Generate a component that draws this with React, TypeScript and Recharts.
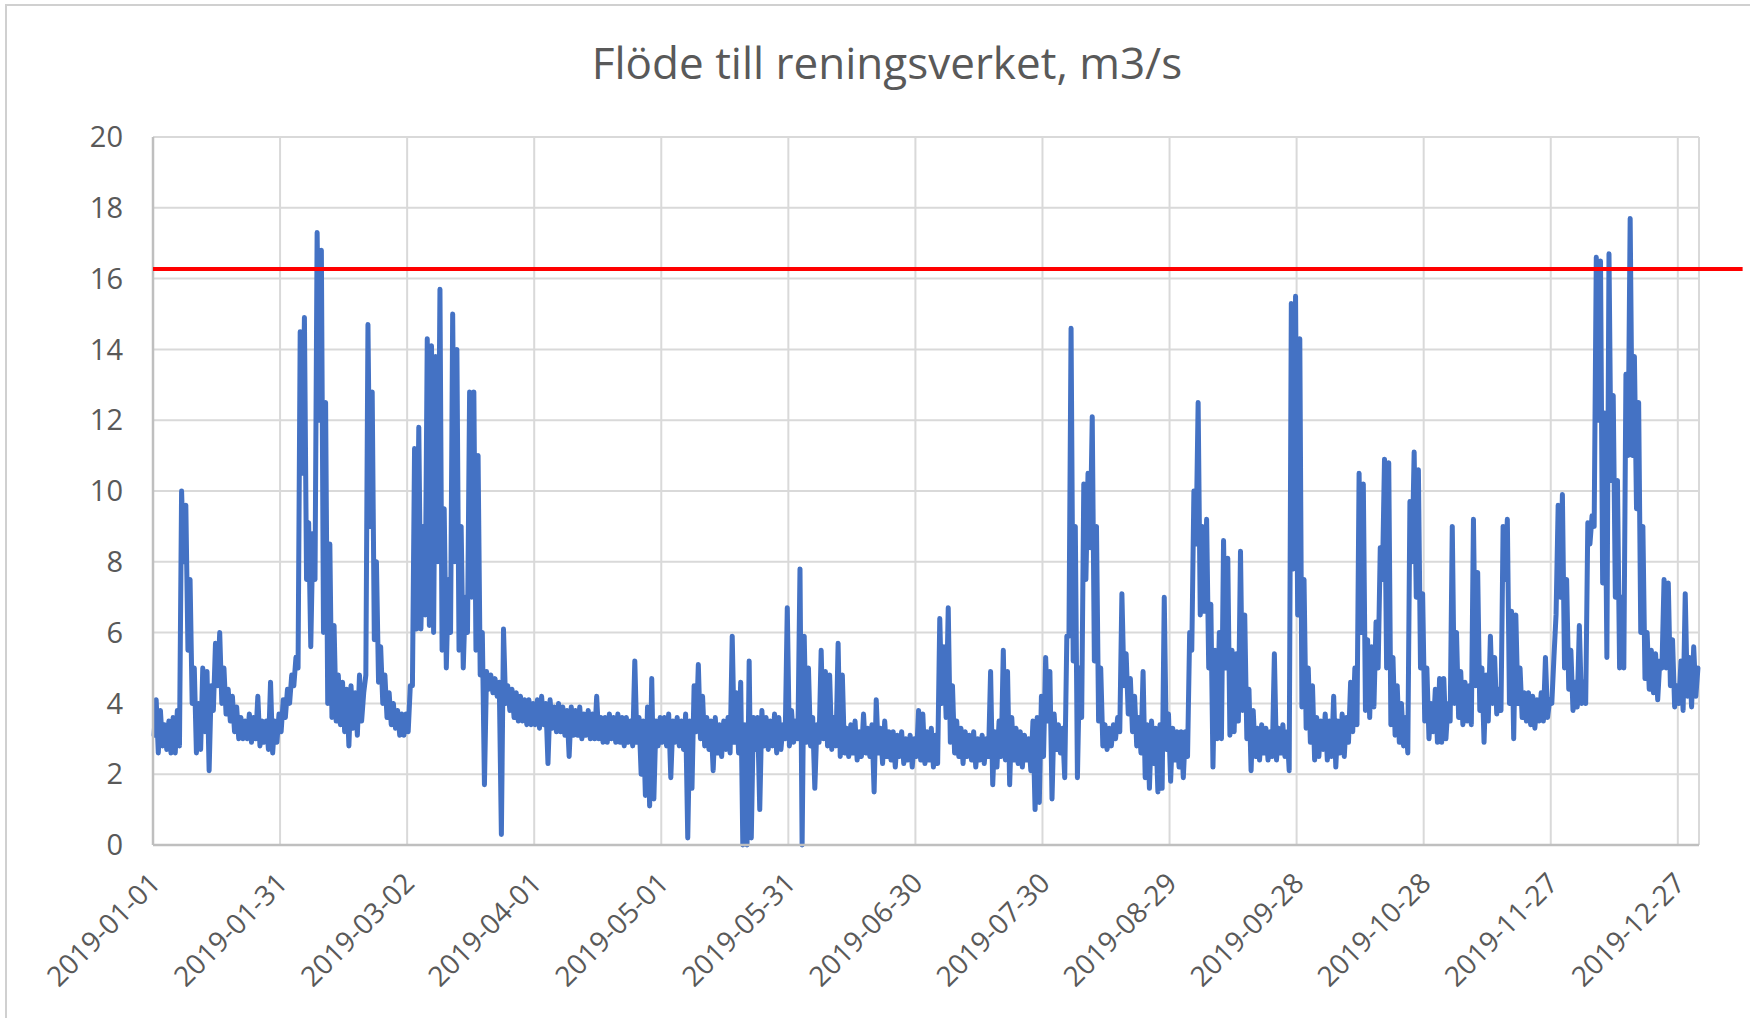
import React from "react";
import {
  LineChart,
  Line,
  XAxis,
  YAxis,
  CartesianGrid,
  ReferenceLine,
} from "recharts";

const FONT = '"Open Sans", "Noto Sans", sans-serif';
const TEXT_COLOR = "#595959";
const FLOW_COLOR = "#4472C4";
const GRID_COLOR = "#d9d9d9";

// dygnets lägsta och högsta flöde (m3/s), en array per månad
const JAN_LOW = [3.1, 2.6, 2.8, 2.7, 2.6, 2.6, 2.8, 8.0, 5.5, 4.0, 2.6, 2.7, 3.2, 2.1, 3.8, 4.5, 4.0, 3.7, 3.5, 3.2, 3.0, 3.0, 3.0, 2.9, 3.0, 2.8, 2.9, 2.7, 2.6, 2.9, 3.2];
const JAN_HIGH = [4.1, 3.8, 3.4, 3.5, 3.6, 3.8, 10.0, 9.6, 7.5, 5.0, 4.0, 5.0, 4.9, 4.5, 5.7, 6.0, 5.0, 4.4, 4.2, 3.9, 3.6, 3.5, 3.7, 3.6, 4.2, 3.5, 3.5, 4.6, 3.5, 3.7, 4.1];
const FEB_LOW = [3.6, 4.0, 4.5, 5.0, 10.5, 7.5, 5.6, 7.5, 12.0, 6.0, 4.0, 3.6, 3.5, 3.4, 3.2, 2.8, 3.3, 3.1, 3.5, 4.8, 9.0, 5.8, 4.6, 4.0, 3.6, 3.4, 3.3, 3.1];
const FEB_HIGH = [4.4, 4.8, 5.3, 14.5, 14.9, 9.1, 8.8, 17.3, 16.8, 12.5, 8.5, 6.2, 4.8, 4.6, 4.4, 4.5, 4.3, 4.8, 4.3, 14.7, 12.8, 8.0, 5.6, 4.8, 4.3, 4.0, 3.8, 3.7];
const MAR_LOW = [3.1, 3.2, 4.5, 6.1, 6.1, 6.5, 6.2, 6.0, 8.0, 5.5, 5.0, 6.0, 8.0, 5.5, 5.0, 6.0, 7.0, 5.5, 4.8, 1.7, 4.4, 4.3, 4.2, 0.3, 4.0, 3.8, 3.6, 3.5, 3.5, 3.4, 3.4];
const MAR_HIGH = [3.7, 4.5, 11.2, 11.8, 9.0, 14.3, 14.1, 13.8, 15.7, 9.5, 7.5, 15.0, 14.0, 9.0, 7.0, 12.8, 12.8, 11.0, 6.0, 4.9, 4.8, 4.7, 4.6, 6.1, 4.5, 4.4, 4.3, 4.2, 4.1, 4.1, 4.0];
const APR_LOW = [3.4, 3.3, 3.4, 2.3, 3.3, 3.2, 3.2, 3.1, 2.5, 3.1, 3.1, 3.0, 3.1, 3.0, 3.0, 3.0, 2.9, 2.9, 3.0, 2.9, 2.9, 2.8, 2.9, 2.8, 2.9, 2.0, 1.4, 1.1, 1.3, 2.8];
const APR_HIGH = [4.1, 4.2, 4.0, 4.1, 3.9, 4.0, 3.9, 3.8, 3.9, 3.8, 3.9, 3.7, 3.8, 3.7, 4.2, 3.6, 3.6, 3.7, 3.6, 3.7, 3.6, 3.6, 3.5, 5.2, 3.6, 3.5, 3.9, 4.7, 3.5, 3.6];
const MAY_LOW = [2.9, 2.8, 1.9, 2.9, 2.8, 2.7, 0.2, 1.6, 3.2, 3.0, 2.8, 2.7, 2.1, 2.6, 2.5, 2.7, 2.6, 2.9, 2.6, 0.0, 0.0, 0.2, 2.7, 1.0, 2.8, 2.7, 2.8, 2.6, 2.7, 3.0, 2.8];
const MAY_HIGH = [3.6, 3.7, 3.5, 3.6, 3.5, 3.7, 3.5, 4.5, 5.1, 4.2, 3.6, 3.5, 3.6, 3.4, 3.5, 3.6, 5.9, 4.3, 4.6, 3.4, 5.2, 3.6, 3.6, 3.8, 3.6, 3.5, 3.7, 3.6, 3.4, 6.7, 3.8];
const JUN_LOW = [2.9, 3.0, 0.0, 2.9, 2.8, 1.6, 2.9, 3.0, 2.8, 2.7, 2.8, 2.5, 2.6, 2.5, 2.6, 2.4, 2.5, 2.6, 2.5, 1.5, 2.6, 2.3, 2.5, 2.4, 2.2, 2.5, 2.3, 2.4, 2.2, 2.5];
const JUN_HIGH = [3.5, 7.8, 5.9, 5.0, 3.6, 3.4, 5.5, 4.9, 4.8, 3.6, 5.7, 4.8, 3.3, 3.4, 3.5, 3.2, 3.7, 3.3, 3.4, 4.1, 3.3, 3.5, 3.2, 3.2, 3.1, 3.2, 3.0, 3.1, 3.0, 3.8];
const JUL_LOW = [2.4, 2.3, 2.4, 2.2, 2.3, 4.0, 3.6, 2.9, 2.6, 2.5, 2.3, 2.5, 2.4, 2.2, 2.4, 2.3, 2.5, 1.7, 2.2, 2.5, 2.4, 1.7, 2.4, 2.3, 2.2, 2.4, 2.1, 1.0, 1.2, 2.5, 3.5];
const JUL_HIGH = [3.7, 3.2, 3.3, 3.1, 6.4, 5.6, 6.7, 4.5, 3.5, 3.3, 3.2, 3.1, 3.2, 3.0, 3.1, 3.0, 4.9, 3.2, 3.5, 5.5, 4.9, 3.6, 3.3, 3.2, 3.1, 3.0, 3.5, 3.6, 4.2, 5.3, 4.9];
const AUG_LOW = [1.3, 2.7, 2.6, 1.9, 5.9, 5.2, 1.9, 3.6, 7.5, 8.4, 5.2, 3.5, 2.8, 2.7, 2.8, 3.0, 3.2, 4.5, 3.7, 3.2, 2.8, 2.6, 1.9, 1.6, 2.3, 1.5, 1.6, 2.7, 1.8, 2.4, 2.2];
const AUG_HIGH = [3.7, 3.4, 3.3, 5.9, 14.6, 9.0, 5.0, 10.2, 10.5, 12.1, 9.0, 5.0, 3.4, 3.3, 3.4, 3.6, 7.1, 5.4, 4.7, 4.2, 3.6, 4.9, 3.4, 3.5, 3.3, 3.4, 7.0, 3.7, 3.3, 3.2, 3.2];
const SEP_LOW = [1.9, 2.5, 5.5, 8.5, 6.5, 6.6, 5.0, 2.2, 3.0, 3.0, 5.0, 3.1, 3.2, 3.5, 3.8, 3.0, 2.1, 2.5, 2.4, 2.6, 2.4, 2.5, 2.4, 2.6, 2.5, 2.1, 7.8, 6.5, 3.9, 3.3];
const SEP_HIGH = [3.2, 6.0, 10.0, 12.5, 9.0, 9.2, 6.8, 5.5, 6.0, 8.6, 8.1, 5.5, 5.4, 8.3, 6.5, 4.4, 3.8, 3.3, 3.4, 3.3, 3.2, 5.4, 3.3, 3.4, 3.2, 15.3, 15.5, 14.3, 7.5, 5.0];
const OCT_LOW = [2.9, 2.4, 2.5, 2.7, 2.4, 2.5, 2.2, 2.6, 2.5, 2.9, 3.2, 3.4, 6.0, 3.8, 3.6, 3.9, 5.0, 7.5, 5.0, 3.4, 3.1, 2.9, 2.8, 2.6, 8.0, 7.0, 5.0, 3.5, 3.0, 3.2, 2.9];
const OCT_HIGH = [4.5, 3.6, 3.5, 3.7, 3.5, 4.2, 3.5, 3.7, 3.6, 4.6, 5.0, 10.5, 10.2, 5.8, 5.6, 6.3, 8.4, 10.9, 10.8, 5.3, 4.5, 4.0, 3.6, 9.7, 11.1, 10.6, 7.1, 5.0, 4.0, 4.4, 4.7];
const NOV_LOW = [2.9, 3.0, 3.5, 4.0, 3.6, 3.4, 3.5, 3.4, 4.5, 3.8, 2.9, 3.5, 4.0, 3.7, 3.8, 7.5, 4.0, 3.0, 4.0, 3.6, 3.5, 3.4, 3.3, 3.5, 3.5, 3.6, 4.0, 6.5, 7.0, 5.0];
const NOV_HIGH = [4.7, 4.0, 9.0, 6.0, 4.9, 4.6, 4.5, 9.2, 7.7, 5.0, 4.8, 5.9, 5.3, 4.4, 9.0, 9.2, 6.6, 6.5, 5.0, 4.3, 4.3, 4.2, 4.1, 4.3, 5.3, 4.1, 5.3, 9.6, 9.9, 7.5];
const DEC_LOW = [4.4, 3.8, 3.9, 4.0, 4.0, 8.5, 9.0, 12.0, 7.4, 5.3, 10.3, 7.0, 5.0, 5.0, 11.0, 11.0, 9.5, 6.0, 4.7, 4.4, 4.3, 4.1, 5.0, 5.0, 4.5, 3.9, 4.0, 3.8, 4.2, 3.9, 4.2];
const DEC_HIGH = [5.5, 4.6, 6.2, 4.6, 9.1, 9.3, 16.6, 16.5, 12.2, 16.7, 12.7, 10.3, 7.0, 13.3, 17.7, 13.8, 12.5, 9.0, 6.0, 5.5, 5.4, 5.2, 7.5, 7.4, 5.8, 4.5, 5.2, 7.1, 5.3, 5.6, 5.0];

const MONTH_START = [0, 31, 59, 90, 120, 151, 181, 212, 243, 273, 304, 334];
const MONTH_LOW = [JAN_LOW, FEB_LOW, MAR_LOW, APR_LOW, MAY_LOW, JUN_LOW, JUL_LOW, AUG_LOW, SEP_LOW, OCT_LOW, NOV_LOW, DEC_LOW];
const MONTH_HIGH = [JAN_HIGH, FEB_HIGH, MAR_HIGH, APR_HIGH, MAY_HIGH, JUN_HIGH, JUL_HIGH, AUG_HIGH, SEP_HIGH, OCT_HIGH, NOV_HIGH, DEC_HIGH];

const TICK_DAYS = [0, 30, 60, 90, 120, 150, 180, 210, 240, 270, 300, 330, 360];
const TICK_LABELS = [
  "2019-01-01",
  "2019-01-31",
  "2019-03-02",
  "2019-04-01",
  "2019-05-01",
  "2019-05-31",
  "2019-06-30",
  "2019-07-30",
  "2019-08-29",
  "2019-09-28",
  "2019-10-28",
  "2019-11-27",
  "2019-12-27",
];
const Y_TICKS = [0, 2, 4, 6, 8, 10, 12, 14, 16, 18, 20];

// gränsvärde, linjen dras ut förbi diagrammets högra kant
const LIMIT = 16.27;
const LIMIT_END_DAY = 375.3;

const flow: { t: number; q: number }[] = [];
MONTH_START.forEach((start, m) => {
  MONTH_LOW[m].forEach((low, i) => {
    flow.push({ t: start + i + 0.25, q: low });
    flow.push({ t: start + i + 0.75, q: MONTH_HIGH[m][i] });
  });
});

function DateTick({ x, y, payload }: any) {
  const label = TICK_LABELS[TICK_DAYS.indexOf(payload.value)];
  return (
    <g transform={`translate(${x + 9},${y + 40}) rotate(-45)`}>
      <text textAnchor="end" fill={TEXT_COLOR} fontSize={28} fontFamily={FONT}>
        {label}
      </text>
    </g>
  );
}

export default function App() {
  return (
    <div
      style={{
        position: "absolute",
        left: 0,
        top: 0,
        width: 1750,
        height: 1018,
        overflow: "hidden",
        background: "#fff",
      }}
    >
      <div
        style={{
          position: "absolute",
          left: 5,
          top: 4,
          width: 1900,
          height: 1200,
          borderLeft: "2.5px solid #d0d0d0",
          borderTop: "2.5px solid #d0d0d0",
        }}
      />
      <div
        style={{
          position: "absolute",
          left: 0,
          top: 40,
          width: 1774,
          textAlign: "center",
          fontFamily: FONT,
          fontSize: 44,
          lineHeight: "44px",
          color: TEXT_COLOR,
        }}
      >
        Flöde till reningsverket, m3/s
      </div>
      <div style={{ position: "absolute", left: 0, top: 0 }}>
        <LineChart
          width={1750}
          height={1018}
          data={flow}
          margin={{ top: 137, right: 51, bottom: 0, left: 0 }}
        >
          <CartesianGrid stroke={GRID_COLOR} strokeWidth={2} />
          <XAxis
            dataKey="t"
            type="number"
            domain={[0, 365]}
            ticks={TICK_DAYS}
            interval={0}
            height={173}
            tickSize={0}
            tickMargin={0}
            tickLine={false}
            axisLine={{ stroke: "#bfbfbf", strokeWidth: 2.5 }}
            tick={<DateTick />}
          />
          <YAxis
            type="number"
            domain={[0, 20]}
            ticks={Y_TICKS}
            interval={0}
            width={153}
            tickSize={0}
            tickMargin={30}
            tickLine={false}
            axisLine={{ stroke: "#bfbfbf", strokeWidth: 2.5 }}
            tick={{ fill: TEXT_COLOR, fontSize: 29, fontFamily: FONT }}
          />
          <Line
            type="linear"
            dataKey="q"
            stroke={FLOW_COLOR}
            strokeWidth={5}
            strokeLinejoin="round"
            strokeLinecap="round"
            dot={false}
            activeDot={false}
            isAnimationActive={false}
          />
          <ReferenceLine
            segment={[
              { x: 0, y: LIMIT },
              { x: LIMIT_END_DAY, y: LIMIT },
            ]}
            ifOverflow="visible"
            stroke="#ff0000"
            strokeWidth={4}
            zIndex={1000}
          />
        </LineChart>
      </div>
    </div>
  );
}
